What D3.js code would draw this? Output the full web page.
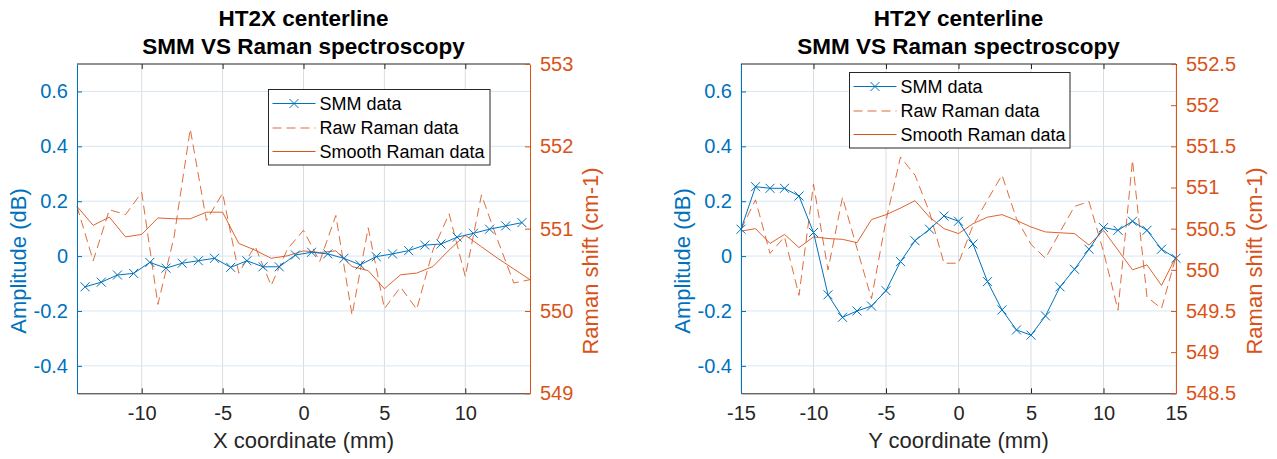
<!DOCTYPE html>
<html>
<head>
<meta charset="utf-8">
<script src="https://cdn.jsdelivr.net/npm/d3@7"></script>
<style>
  body { margin: 0; background: #fff; }
  svg { display: block; }
  text { font-family: "Liberation Sans", Arial, Helvetica, sans-serif; }
</style>
</head>
<body>
<svg id="chart" width="1277" height="459"></svg>
<script>
// ---------- HT2X centerline ----------
const ht2xSmmX = [-13.5, -12.5, -11.5, -10.5, -9.5, -8.5, -7.5, -6.5, -5.5, -4.5, -3.5, -2.5, -1.5, -0.5,
                  0.5, 1.5, 2.5, 3.5, 4.5, 5.5, 6.5, 7.5, 8.5, 9.5, 10.5, 11.5, 12.5, 13.5];
const ht2xSmm = [-0.112, -0.095, -0.069, -0.063, -0.023, -0.044, -0.026, -0.017, -0.008, -0.041, -0.017, -0.039, -0.039, 0.004,
                 0.014, 0.008, -0.008, -0.032, -0.002, 0.008, 0.020, 0.040, 0.044, 0.069, 0.083, 0.098, 0.110, 0.122];
const ht2xRamanX = [-14, -13, -12, -11, -10, -9, -8, -7, -6, -5, -4, -3, -2, -1, 0,
                    1, 2, 3, 4, 5, 6, 7, 8, 9, 10, 11, 12, 13, 14];
const ht2xRawRaman = [551.27, 550.61, 551.23, 551.17, 551.44, 550.08, 550.90, 552.21, 551.10, 551.43, 550.46, 550.79, 550.31, 550.75, 550.98,
                      550.60, 551.16, 549.95, 551.01, 550.03, 550.29, 550.02, 550.74, 551.18, 550.42, 551.41, 550.86, 550.34, 550.38];
const ht2xSmoothRaman = [551.27, 551.04, 551.14, 550.90, 550.93, 551.13, 551.12, 551.12, 551.20, 551.20, 550.82, 550.74, 550.64, 550.67, 550.73,
                         550.71, 550.73, 550.54, 550.49, 550.27, 550.44, 550.46, 550.54, 550.74, 550.92, 550.78, 550.64, 550.51, 550.38];
const ht2xXTicks = [-10, -5, 0, 5, 10];
const ht2xRamanTicks = [549, 550, 551, 552, 553];

// ---------- HT2Y centerline ----------
const ht2yX = [-15, -14, -13, -12, -11, -10, -9, -8, -7, -6, -5, -4, -3, -2, -1, 0,
               1, 2, 3, 4, 5, 6, 7, 8, 9, 10, 11, 12, 13, 14, 15];
const ht2ySmm = [0.098, 0.253, 0.247, 0.247, 0.219, 0.086, -0.141, -0.223, -0.200, -0.182, -0.126, -0.020, 0.056, 0.098, 0.146, 0.127,
                 0.044, -0.093, -0.196, -0.269, -0.288, -0.218, -0.112, -0.048, 0.025, 0.104, 0.094, 0.127, 0.094, 0.025, -0.008];
const ht2yRawRaman = [550.49, 550.85, 550.20, 550.40, 549.69, 551.04, 550.00, 550.88, 550.26, 549.65, 550.60, 551.37, 551.15, 550.70, 550.08, 550.08,
                      550.54, 550.85, 551.15, 550.62, 550.31, 550.14, 550.46, 550.77, 550.83, 550.22, 549.51, 551.33, 549.67, 549.53, 550.16];
const ht2ySmoothRaman = [550.47, 550.50, 550.32, 550.43, 550.27, 550.40, 550.38, 550.37, 550.33, 550.61, 550.67, 550.75, 550.84, 550.64, 550.50, 550.44,
                         550.56, 550.64, 550.67, 550.60, 550.52, 550.46, 550.45, 550.44, 550.30, 550.48, 550.24, 550.00, 550.06, 549.81, 550.16];
const ht2yXTicks = [-15, -10, -5, 0, 5, 10, 15];
const ht2yRamanTicks = [548.5, 549, 549.5, 550, 550.5, 551, 551.5, 552, 552.5];

// ---------- shared ----------
const amplitudeTicks = [-0.4, -0.2, 0, 0.2, 0.4, 0.6];
const legendLabels = ["SMM data", "Raw Raman data", "Smooth Raman data"];

const BLUE = "#0072BD";
const ORANGE = "#D95319";
const DARK = "#262626";
const FONT_TICK = 20;
const FONT_LABEL = 22;
const FONT_TITLE = 22.5;
const FONT_FAMILY = '"Liberation Sans", Arial, sans-serif';

const svg = d3.select("#chart");

// plain hyphen for negative numbers
const fmtNum = d => String(d);

function drawPanel(cfg) {
  const top = 64, bottom = 393.3;
  const g = svg.append("g");
  const x = d3.scaleLinear().domain(cfg.xDomain).range([cfg.left, cfg.right]);
  const yL = d3.scaleLinear().domain([-0.5, 0.7]).range([bottom, top]);
  const yR = d3.scaleLinear().domain(cfg.ramanDomain).range([bottom, top]);

  // grid
  g.append("g").selectAll("line").data(cfg.xTicks).join("line")
    .attr("x1", d => x(d)).attr("x2", d => x(d))
    .attr("y1", top).attr("y2", bottom)
    .attr("stroke", "#dcdcdc").attr("stroke-width", 1);
  g.append("g").selectAll("line").data(amplitudeTicks).join("line")
    .attr("x1", cfg.left).attr("x2", cfg.right)
    .attr("y1", d => yL(d)).attr("y2", d => yL(d))
    .attr("stroke", "#d6e7f4").attr("stroke-width", 1);

  // raman series
  const lineR = d3.line().x((d, i) => x(cfg.ramanX[i])).y(d => yR(d));
  g.append("path").datum(cfg.raw)
    .attr("d", lineR).attr("fill", "none")
    .attr("stroke", ORANGE).attr("stroke-width", 1)
    .attr("stroke-dasharray", "9,5").attr("opacity", 0.85);
  g.append("path").datum(cfg.smooth)
    .attr("d", lineR).attr("fill", "none")
    .attr("stroke", ORANGE).attr("stroke-width", 1).attr("opacity", 0.9);

  // SMM series
  const lineL = d3.line().x((d, i) => x(cfg.smmX[i])).y(d => yL(d));
  g.append("path").datum(cfg.smm)
    .attr("d", lineL).attr("fill", "none")
    .attr("stroke", BLUE).attr("stroke-width", 1);
  const cross = "M-4.5,-4.5L4.5,4.5M-4.5,4.5L4.5,-4.5";
  g.append("g").selectAll("path").data(cfg.smm).join("path")
    .attr("transform", (d, i) => `translate(${x(cfg.smmX[i])},${yL(d)})`)
    .attr("d", cross).attr("fill", "none")
    .attr("stroke", BLUE).attr("stroke-width", 1);

  // frame: top edge with inward ticks
  g.append("line").attr("x1", cfg.left).attr("x2", cfg.right)
    .attr("y1", top).attr("y2", top).attr("stroke", DARK).attr("stroke-width", 1);
  const topAxis = d3.axisTop(x).tickValues(cfg.xTicks).tickSizeInner(-5).tickSizeOuter(0).tickFormat("");
  g.append("g").attr("transform", `translate(0,${top})`).call(topAxis)
    .call(a => a.select(".domain").remove())
    .call(a => a.selectAll("line").attr("stroke", DARK));

  // bottom axis
  const xAxis = d3.axisBottom(x).tickValues(cfg.xTicks).tickSizeInner(-5).tickSizeOuter(0)
    .tickPadding(13).tickFormat(fmtNum);
  g.append("g").attr("transform", `translate(0,${bottom})`).call(xAxis)
    .call(a => a.select(".domain").attr("stroke", DARK))
    .call(a => a.selectAll("line").attr("stroke", DARK))
    .call(a => a.selectAll("text").attr("fill", DARK).attr("font-size", FONT_TICK)
      .attr("font-family", FONT_FAMILY));

  // left axis
  const yAxisL = d3.axisLeft(yL).tickValues(amplitudeTicks).tickSizeInner(-5).tickSizeOuter(0)
    .tickPadding(9).tickFormat(d => d === 0 ? "0" : d.toFixed(1));
  g.append("g").attr("transform", `translate(${cfg.left},0)`).call(yAxisL)
    .call(a => a.select(".domain").attr("stroke", BLUE))
    .call(a => a.selectAll("line").attr("stroke", BLUE))
    .call(a => a.selectAll("text").attr("fill", BLUE).attr("font-size", FONT_TICK)
      .attr("font-family", FONT_FAMILY));

  // right axis
  const yAxisR = d3.axisRight(yR).tickValues(cfg.ramanTicks).tickSizeInner(-5).tickSizeOuter(0)
    .tickPadding(10).tickFormat(fmtNum);
  g.append("g").attr("transform", `translate(${cfg.right},0)`).call(yAxisR)
    .call(a => a.select(".domain").attr("stroke", ORANGE))
    .call(a => a.selectAll("line").attr("stroke", ORANGE))
    .call(a => a.selectAll("text").attr("fill", ORANGE).attr("font-size", FONT_TICK)
      .attr("font-family", FONT_FAMILY));

  // titles and labels
  const cx = (cfg.left + cfg.right) / 2;
  g.append("text").attr("x", cx).attr("y", 26).attr("text-anchor", "middle")
    .attr("font-weight", "bold").attr("font-size", FONT_TITLE).attr("fill", "#000").text(cfg.title1);
  g.append("text").attr("x", cx).attr("y", 54).attr("text-anchor", "middle")
    .attr("font-weight", "bold").attr("font-size", FONT_TITLE).attr("fill", "#000").text(cfg.title2);
  g.append("text").attr("x", cx).attr("y", 448).attr("text-anchor", "middle")
    .attr("font-size", FONT_LABEL).attr("fill", DARK).text(cfg.xLabel);
  const labelY = 261;
  g.append("text").attr("transform", `translate(${cfg.left - 51},${labelY}) rotate(-90)`)
    .attr("text-anchor", "middle").attr("font-size", FONT_LABEL).attr("fill", BLUE).text("Amplitude (dB)");
  g.append("text").attr("transform", `translate(${cfg.right + cfg.ramanLabelGap},${labelY}) rotate(-90)`)
    .attr("text-anchor", "middle").attr("font-size", FONT_LABEL).attr("fill", ORANGE).text("Raman shift (cm-1)");

  // legend
  const lg = g.append("g").attr("transform", `translate(${cfg.legend[0]},${cfg.legend[1]})`);
  lg.append("rect").attr("x", 0).attr("y", 0).attr("width", cfg.legend[2]).attr("height", 75.5)
    .attr("fill", "#fff").attr("stroke", DARK).attr("stroke-width", 1);
  const rowY = [14, 38.5, 62];
  legendLabels.forEach((lab, i) => {
    const yy = rowY[i];
    const ln = lg.append("line").attr("x1", 4).attr("x2", 47).attr("y1", yy).attr("y2", yy)
      .attr("stroke", i === 0 ? BLUE : ORANGE).attr("stroke-width", 1);
    if (i === 1) ln.attr("stroke-dasharray", "9,5").attr("opacity", 0.85);
    if (i === 0) lg.append("path").attr("transform", `translate(25.5,${yy})`).attr("d", cross)
      .attr("stroke", BLUE).attr("fill", "none");
    lg.append("text").attr("x", 51).attr("y", yy).attr("dy", "0.36em")
      .attr("font-size", 18).attr("fill", "#000").text(lab);
  });
}

drawPanel({
  left: 77, right: 530, xDomain: [-14, 14], xTicks: ht2xXTicks,
  ramanDomain: [549, 553], ramanTicks: ht2xRamanTicks, ramanLabelGap: 68,
  smmX: ht2xSmmX, smm: ht2xSmm, ramanX: ht2xRamanX, raw: ht2xRawRaman, smooth: ht2xSmoothRaman,
  title1: "HT2X centerline", title2: "SMM VS Raman spectroscopy", xLabel: "X coordinate (mm)",
  legend: [268.5, 89.5, 221.5]
});

drawPanel({
  left: 741, right: 1176, xDomain: [-15, 15], xTicks: ht2yXTicks,
  ramanDomain: [548.5, 552.5], ramanTicks: ht2yRamanTicks, ramanLabelGap: 86,
  smmX: ht2yX, smm: ht2ySmm, ramanX: ht2yX, raw: ht2yRawRaman, smooth: ht2ySmoothRaman,
  title1: "HT2Y centerline", title2: "SMM VS Raman spectroscopy", xLabel: "Y coordinate (mm)",
  legend: [849.5, 72.5, 220.5]
});
</script>
</body>
</html>
